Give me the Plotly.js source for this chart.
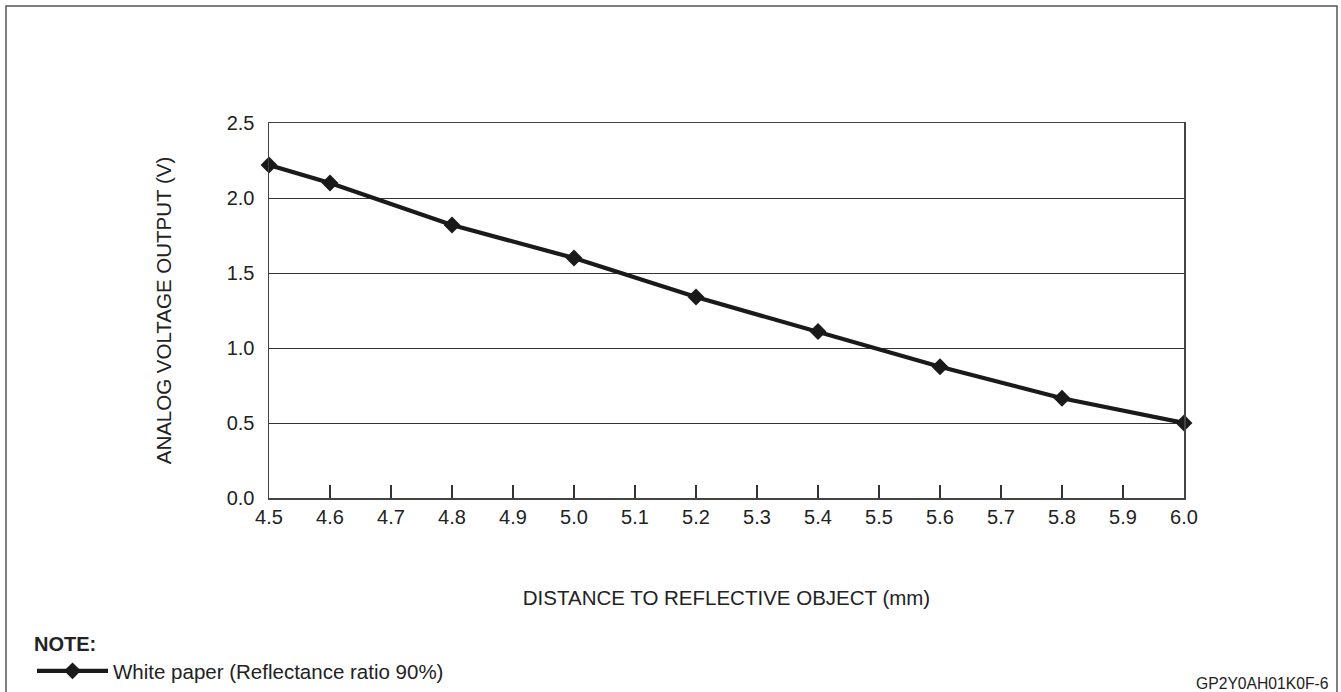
<!DOCTYPE html>
<html>
<head>
<meta charset="utf-8">
<script src="https://cdn.plot.ly/plotly-3.0.1.min.js"></script>
<style>
  html, body { margin: 0; padding: 0; background: #ffffff; }
  #chart { width: 1341px; height: 692px; }
</style>
</head>
<body>
<div id="chart"></div>
<script>
// Data
var distanceMm = [4.5, 4.6, 4.8, 5.0, 5.2, 5.4, 5.6, 5.8, 6.0];
var voltageV   = [2.22, 2.10, 1.82, 1.60, 1.34, 1.11, 0.875, 0.665, 0.50];
var seriesName = 'White paper (Reflectance ratio 90%)';
var xTitle = 'DISTANCE TO REFLECTIVE OBJECT (mm)';
var yTitle = 'ANALOG VOLTAGE OUTPUT (V)';
var noteTitle = 'NOTE:';
var figureCode = 'GP2Y0AH01K0F-6';

var FONT = '"Liberation Sans", Arial, Helvetica, sans-serif';
var INK = '#1a1a1a';
var TXT = '#222222';

// pixel -> paper helpers for the page frame
var W = 1341, H = 692;
var M = { l: 269, r: 157, t: 123, b: 194, autoexpand: false };
var pw = W - M.l - M.r, ph = H - M.t - M.b;
function px(x) { return (x - M.l) / pw; }
function py(y) { return (H - M.b - y) / ph; }

var trace = {
  x: distanceMm,
  y: voltageV,
  type: 'scatter',
  mode: 'lines+markers',
  name: seriesName,
  line: { color: INK, width: 4.3 },
  marker: { symbol: 'diamond', size: 13, color: INK },
  cliponaxis: false,
  showlegend: true
};

var layout = {
  width: W,
  height: H,
  margin: M,
  paper_bgcolor: '#ffffff',
  plot_bgcolor: '#ffffff',
  font: { family: FONT, size: 20, color: TXT },
  showlegend: true,
  legend: {
    x: px(32),
    y: py(625),
    xanchor: 'left',
    yanchor: 'top',
    bgcolor: 'rgba(0,0,0,0)',
    borderwidth: 0,
    itemwidth: 71,
    font: { family: FONT, size: 20.5, color: TXT },
    title: { text: '<b>' + noteTitle + '</b>', side: 'top', font: { family: FONT, size: 20, color: TXT } }
  },
  xaxis: {
    range: [4.5, 6.0],
    dtick: 0.1,
    tick0: 4.5,
    tickformat: '.1f',
    ticks: 'inside',
    ticklen: 13,
    tickwidth: 1.5,
    tickcolor: '#333333',
    ticklabelstandoff: 0,
    showgrid: false,
    zeroline: false,
    showline: true,
    linecolor: '#444444',
    linewidth: 1.5,
    mirror: true,
    tickfont: { family: FONT, size: 20, color: TXT },
    title: { text: xTitle, standoff: 64, font: { family: FONT, size: 20.5, color: TXT } },
    automargin: false,
    fixedrange: true
  },
  yaxis: {
    range: [0, 2.5],
    dtick: 0.5,
    tick0: 0,
    tickformat: '.1f',
    ticks: '',
    ticklabelstandoff: 9,
    showgrid: true,
    gridcolor: '#333333',
    gridwidth: 1,
    zeroline: false,
    showline: true,
    linecolor: '#444444',
    linewidth: 1.5,
    mirror: true,
    tickfont: { family: FONT, size: 20, color: TXT },
    title: { text: yTitle, standoff: 49, font: { family: FONT, size: 20.5, color: TXT } },
    automargin: false,
    fixedrange: true
  },
  shapes: [
    {
      type: 'rect', xref: 'paper', yref: 'paper',
      x0: px(6), x1: px(1337), y0: py(6), y1: py(720),
      line: { color: '#555555', width: 1.5 },
      fillcolor: 'rgba(0,0,0,0)',
      layer: 'below'
    }
  ],
  annotations: [
    {
      text: figureCode,
      xref: 'paper', yref: 'paper',
      x: px(1331), y: py(683),
      xanchor: 'right', yanchor: 'middle',
      showarrow: false,
      font: { family: FONT, size: 15.7, color: TXT }
    }
  ]
};

Plotly.newPlot('chart', [trace], layout, { displayModeBar: false, staticPlot: true });
</script>
</body>
</html>
